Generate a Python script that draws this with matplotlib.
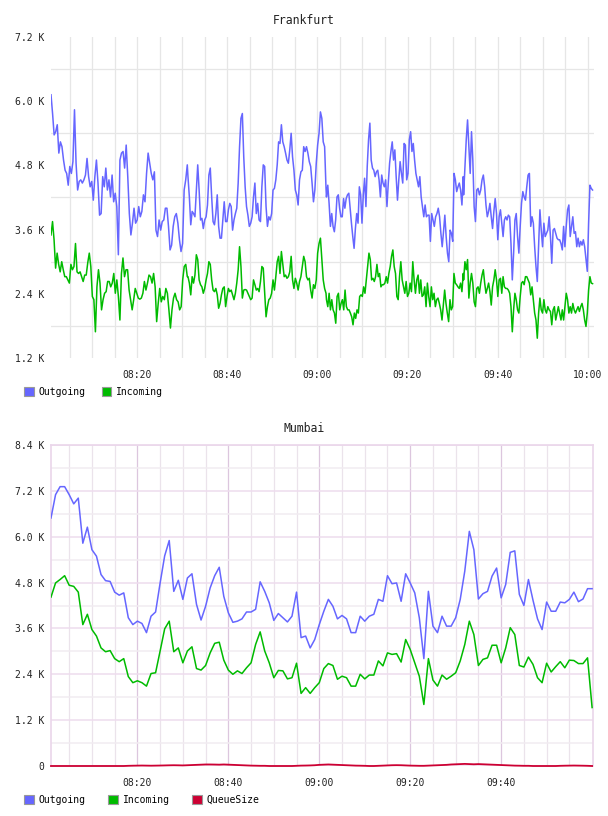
import numpy as np
import matplotlib
matplotlib.use("Agg")
import matplotlib.pyplot as plt
from matplotlib.ticker import FixedLocator, FuncFormatter
from matplotlib.patches import Patch

# ---------------- data (values in thousands) ----------------
# Frankfurt: four consecutive stretches of samples; time spans in minutes after 08:00
FRA_SEG_SPANS = [(0.84, 31.1), (31.25, 61.9), (62.0, 92.37), (92.45, 121.08)]

fra_out_1 = [6.12, 5.77, 5.37, 5.43, 5.56, 5.03, 5.24, 5.15, 4.90, 4.71,
             4.65, 4.43, 4.78, 4.65, 4.87, 5.84, 4.84, 4.34, 4.50, 4.53,
             4.47, 4.53, 4.62, 4.93, 4.59, 4.40, 4.50, 4.15, 4.59, 4.90,
             4.47, 3.87, 3.90, 4.59, 4.40, 4.75, 4.34, 4.53, 4.21, 4.62,
             4.12, 4.28, 4.03, 3.13, 4.90, 5.03, 5.06, 4.75, 5.18, 4.59,
             3.90, 3.50, 3.72, 4.00, 3.72, 3.78, 4.03, 3.84, 3.94, 4.25,
             4.12, 4.65, 5.03, 4.84, 4.65, 4.53, 4.68, 3.59, 3.47, 3.78,
             3.59, 3.75, 3.78, 4.00, 4.00, 3.66, 3.22, 3.31, 3.66, 3.84,
             3.90, 3.72, 3.41, 3.19, 3.34, 4.34, 4.53, 4.81]
fra_out_2 = [4.59, 4.21, 3.69, 3.94, 3.90, 3.84, 4.34, 4.81, 4.34, 3.78,
             3.81, 3.62, 3.78, 3.84, 4.06, 4.62, 4.75, 4.21, 3.75, 3.69,
             3.90, 4.25, 3.66, 3.44, 3.44, 3.78, 4.12, 3.75, 3.75, 3.97,
             4.09, 4.03, 3.59, 3.78, 3.90, 4.00, 4.47, 5.15, 5.68, 5.77,
             4.96, 4.40, 4.03, 3.87, 3.66, 3.72, 3.84, 4.21, 4.47, 3.90,
             4.09, 3.78, 3.75, 4.40, 4.81, 4.78, 4.03, 3.66, 3.84, 3.78,
             3.90, 4.34, 4.37, 4.53, 4.81, 5.24, 5.21, 5.56, 5.24, 5.15,
             5.03, 4.90, 4.84, 5.09, 5.40, 4.96, 4.71, 4.34, 4.25, 4.06,
             4.53, 4.68, 4.71, 5.15, 5.06, 5.15, 5.03, 4.87, 4.78, 4.47,
             4.12, 4.34, 4.84, 5.18, 5.40, 5.80, 5.68, 5.24, 5.15, 4.37]
fra_out_3 = [4.21, 4.43, 4.09, 3.66, 3.90, 3.66, 3.56, 3.78, 4.21, 4.25,
             4.00, 3.84, 3.84, 4.18, 4.00, 4.18, 4.25, 4.28, 4.00, 3.72,
             3.47, 3.25, 3.62, 3.90, 3.72, 4.40, 4.25, 3.72, 4.25, 4.56,
             4.03, 4.78, 5.28, 5.59, 4.90, 4.75, 4.71, 4.59, 4.68, 4.71,
             4.53, 4.21, 4.62, 4.47, 4.40, 4.53, 4.03, 4.47, 4.84, 5.06,
             5.24, 4.90, 5.09, 4.59, 4.15, 4.53, 4.87, 4.65, 4.47, 5.21,
             5.18, 4.53, 4.65, 5.28, 5.43, 5.06, 5.21, 4.90, 4.65, 4.53,
             4.40, 4.59, 4.21, 4.03, 3.84, 4.06, 3.84, 3.87, 3.87, 3.38,
             3.90, 3.78, 3.66, 3.84, 3.90, 4.00, 3.84, 3.53, 3.28, 3.56,
             3.87, 3.47, 3.16, 3.00, 3.59, 3.53, 3.38, 4.65, 4.53, 4.31,
             4.40, 4.47, 4.34, 4.06, 4.59]
fra_out_4 = [4.25, 4.78, 5.28, 5.65, 5.15, 4.65, 5.43, 4.90, 4.03, 3.75,
             4.34, 4.37, 4.25, 4.34, 4.53, 4.62, 4.40, 4.06, 3.84, 3.94,
             4.09, 3.84, 3.62, 3.94, 4.18, 3.90, 3.41, 3.84, 3.97, 3.72,
             3.47, 3.78, 3.84, 3.78, 3.87, 3.84, 3.34, 2.66, 3.16, 3.78,
             3.90, 3.47, 3.16, 3.66, 4.09, 4.31, 4.21, 4.15, 4.40, 4.62,
             4.65, 3.66, 3.84, 3.72, 3.28, 2.91, 2.63, 3.28, 3.97, 3.59,
             3.28, 3.72, 3.47, 3.53, 3.59, 3.84, 3.47, 2.97, 3.59, 3.62,
             3.53, 3.44, 3.41, 3.41, 3.34, 3.22, 3.66, 3.28, 3.66, 3.97,
             4.06, 3.47, 3.66, 3.84, 3.53, 3.56, 3.28, 3.44, 3.28, 3.38,
             3.31, 3.41, 3.28, 3.04, 2.82, 3.72, 4.43, 4.37, 4.34]

fra_in_1 = [3.50, 3.75, 3.41, 2.88, 3.16, 2.95, 2.81, 3.00, 2.85, 2.72,
            2.72, 2.66, 2.60, 2.95, 2.85, 2.91, 3.34, 2.81, 2.78, 2.81,
            2.72, 2.63, 2.75, 2.75, 2.98, 3.16, 2.91, 2.35, 2.29, 1.69,
            2.53, 2.85, 2.60, 2.10, 2.29, 2.41, 2.44, 2.63, 2.63, 2.53,
            2.60, 2.78, 2.41, 2.66, 2.35, 1.91, 2.78, 3.07, 2.72, 2.85,
            2.85, 2.47, 2.29, 2.10, 2.29, 2.50, 2.41, 2.32, 2.30, 2.32,
            2.41, 2.63, 2.47, 2.60, 2.75, 2.72, 2.60, 2.78, 2.53, 1.88,
            2.22, 2.50, 2.25, 2.35, 2.29, 2.50, 2.41, 2.10, 1.76, 2.10,
            2.32, 2.41, 2.29, 2.25, 2.10, 2.16, 2.66, 2.91, 2.95, 2.72]
fra_in_2 = [2.72, 2.60, 2.38, 2.72, 2.60, 2.75, 3.13, 3.04, 2.66, 2.57,
            2.53, 2.41, 2.50, 2.66, 2.78, 3.00, 2.95, 2.66, 2.47, 2.44,
            2.50, 2.38, 2.13, 2.22, 2.38, 2.50, 2.53, 2.16, 2.35, 2.50,
            2.44, 2.47, 2.38, 2.29, 2.41, 2.60, 2.85, 3.28, 2.91, 2.32,
            2.47, 2.48, 2.47, 2.41, 2.35, 2.29, 2.32, 2.66, 2.57, 2.47,
            2.50, 2.44, 2.63, 2.91, 2.88, 2.41, 1.97, 2.16, 2.29, 2.32,
            2.41, 2.66, 2.47, 2.72, 3.00, 3.10, 2.78, 3.19, 2.95, 2.72,
            2.75, 2.69, 2.72, 2.81, 3.10, 2.66, 2.50, 2.69, 2.60, 2.47,
            2.63, 2.72, 2.91, 3.10, 3.00, 2.72, 2.66, 2.69, 2.47, 2.32,
            2.57, 2.50, 2.66, 3.16, 3.34, 3.44, 3.04, 2.66, 2.50, 2.41]
fra_in_3 = [2.29, 2.16, 2.41, 2.10, 2.29, 2.10, 2.04, 1.85, 2.35, 2.41,
            2.10, 2.22, 2.29, 2.10, 2.47, 2.16, 2.10, 2.10, 2.04, 1.97,
            1.82, 2.04, 1.94, 2.10, 2.04, 2.35, 2.38, 2.35, 2.53, 2.41,
            2.66, 2.91, 3.16, 3.04, 2.66, 2.69, 2.63, 2.72, 2.95, 2.72,
            2.78, 2.53, 2.57, 2.57, 2.60, 2.72, 2.60, 2.78, 2.91, 3.10,
            3.22, 2.91, 2.78, 2.35, 2.29, 2.72, 3.00, 2.66, 2.53, 2.41,
            2.63, 2.35, 2.41, 2.60, 2.44, 3.00, 2.66, 2.41, 2.66, 2.75,
            2.41, 2.66, 2.35, 2.38, 2.53, 2.16, 2.60, 2.35, 2.16, 2.53,
            2.29, 2.41, 2.16, 2.29, 2.32, 2.22, 2.10, 1.91, 2.19, 2.47,
            2.22, 2.04, 1.88, 2.29, 2.10, 2.16, 2.78, 2.60, 2.57, 2.53,
            2.50, 2.60, 2.44, 2.78]
fra_in_4 = [2.66, 3.00, 2.85, 3.04, 2.32, 2.60, 2.78, 2.60, 2.25, 2.16,
            2.50, 2.53, 2.41, 2.60, 2.75, 2.85, 2.60, 2.41, 2.50, 2.60,
            2.44, 2.19, 2.53, 2.66, 2.85, 2.66, 2.35, 2.66, 2.69, 2.41,
            2.72, 2.53, 2.50, 2.50, 2.47, 2.41, 2.16, 1.69, 2.10, 2.41,
            2.29, 2.10, 2.04, 2.35, 2.60, 2.63, 2.57, 2.72, 2.72, 2.66,
            2.60, 2.38, 2.53, 2.29, 2.04, 1.91, 1.57, 2.04, 2.32, 2.10,
            2.04, 2.29, 2.10, 2.04, 2.16, 2.10, 2.07, 1.82, 2.10, 2.16,
            1.91, 2.04, 2.16, 2.04, 1.91, 2.10, 1.91, 2.16, 2.41, 2.29,
            2.04, 2.16, 2.04, 2.22, 2.10, 2.04, 2.10, 2.16, 2.07, 2.16,
            2.22, 2.10, 1.91, 1.79, 2.04, 2.47, 2.72, 2.60, 2.59]

# Mumbai: one sample per minute, 08:01 .. 10:00
mum_minutes = np.arange(1, 121)
mum_out = [6.49, 7.10, 7.31, 7.31, 7.10, 6.86, 7.01, 5.83, 6.25, 5.66,
           5.49, 5.01, 4.85, 4.83, 4.55, 4.47, 4.53, 3.88, 3.70, 3.79,
           3.73, 3.49, 3.92, 4.03, 4.79, 5.50, 5.90, 4.57, 4.86, 4.36,
           4.92, 5.03, 4.23, 3.82, 4.18, 4.66, 4.98, 5.20, 4.44, 4.01,
           3.76, 3.79, 3.85, 4.03, 4.03, 4.10, 4.82, 4.57, 4.27, 3.81,
           3.99, 3.88, 3.77, 3.92, 4.55, 3.36, 3.40, 3.09, 3.31, 3.70,
           4.05, 4.36, 4.18, 3.85, 3.94, 3.85, 3.49, 3.49, 3.92, 3.79,
           3.92, 3.97, 4.36, 4.31, 4.98, 4.77, 4.79, 4.31, 5.03, 4.79,
           4.53, 3.88, 2.81, 4.57, 3.66, 3.49, 3.92, 3.66, 3.66, 3.88,
           4.36, 5.10, 6.14, 5.66, 4.37, 4.51, 4.57, 4.97, 5.18, 4.40,
           4.75, 5.59, 5.63, 4.49, 4.20, 4.88, 4.34, 3.85, 3.57, 4.29,
           4.05, 4.05, 4.29, 4.27, 4.36, 4.55, 4.30, 4.37, 4.64, 4.64]
mum_in = [4.42, 4.79, 4.88, 4.98, 4.73, 4.70, 4.55, 3.70, 3.97, 3.57,
          3.40, 3.09, 2.99, 3.02, 2.81, 2.73, 2.81, 2.34, 2.18, 2.23,
          2.18, 2.09, 2.42, 2.44, 3.01, 3.59, 3.79, 2.99, 3.09, 2.70,
          3.01, 3.12, 2.55, 2.51, 2.63, 2.96, 3.21, 3.24, 2.77, 2.51,
          2.40, 2.49, 2.42, 2.57, 2.70, 3.18, 3.51, 3.01, 2.70, 2.31,
          2.50, 2.49, 2.28, 2.31, 2.69, 1.90, 2.05, 1.90, 2.05, 2.18,
          2.55, 2.68, 2.63, 2.27, 2.35, 2.31, 2.09, 2.09, 2.40, 2.28,
          2.38, 2.38, 2.75, 2.62, 2.96, 2.92, 2.94, 2.72, 3.31, 3.05,
          2.70, 2.35, 1.61, 2.81, 2.25, 2.09, 2.38, 2.27, 2.35, 2.44,
          2.75, 3.18, 3.79, 3.44, 2.63, 2.79, 2.83, 3.16, 3.16, 2.70,
          3.09, 3.62, 3.44, 2.63, 2.59, 2.85, 2.66, 2.31, 2.18, 2.69,
          2.46, 2.60, 2.73, 2.57, 2.77, 2.76, 2.68, 2.68, 2.83, 1.53]
mum_queue = [0, 0, 0, 0, 0, 0, 0, 0, 0, 0,
             0, 0, 0, 0, 0, 0, 0, 5, 8, 10,
             12, 10, 8, 10, 12, 15, 18, 20, 18, 15,
             20, 25, 30, 35, 40, 40, 38, 35, 40, 35,
             30, 25, 20, 15, 10, 8, 5, 5, 0, 0,
             0, 0, 0, 0, 5, 10, 12, 15, 20, 30,
             35, 40, 35, 30, 25, 20, 15, 10, 8, 5,
             0, 0, 5, 10, 15, 20, 22, 20, 15, 10,
             8, 5, 5, 10, 15, 20, 25, 30, 40, 45,
             50, 55, 50, 45, 50, 45, 40, 35, 30, 25,
             20, 15, 10, 8, 5, 5, 0, 0, 0, 0,
             0, 0, 5, 8, 10, 12, 10, 8, 5, 0]

series_labels_fra = ["Outgoing", "Incoming"]
series_labels_mum = ["Outgoing", "Incoming", "QueueSize"]
fra_yticks = [1.2, 2.4, 3.6, 4.8, 6.0, 7.2]
mum_yticks = [0, 1.2, 2.4, 3.6, 4.8, 6.0, 7.2, 8.4]
x_label_minutes_fra = [20, 40, 60, 80, 100, 120]
x_label_minutes_mum = [20, 40, 60, 80, 100]

# ---------------- style ----------------
C_OUT = "#6666ff"
C_IN = "#00bb00"
C_Q = "#cc0033"
MONO = "DejaVu Sans Mono"
plt.rcParams["font.family"] = [MONO, "DejaVu Sans"]

def fmt_time(m, pos=None):
    m = int(round(m))
    return "%02d:%02d" % (8 + m // 60, m % 60)

def fmt_k(v, pos=None):
    if abs(v) < 1e-9:
        return "0"
    return "%.1f K" % v

def seg_series(segs):
    xs, ys = [], []
    for (a, b), vals in zip(FRA_SEG_SPANS, segs):
        xs.append(np.linspace(a, b, len(vals)))
        ys.append(np.asarray(vals))
    return np.concatenate(xs), np.concatenate(ys)

W, H = 608, 816
fig = plt.figure(figsize=(W / 100, H / 100), dpi=100)

# ---------------- Frankfurt ----------------
ax1 = fig.add_axes([51 / W, 1 - 358 / H, 543 / W, 321 / H])
x_out, y_out = seg_series([fra_out_1, fra_out_2, fra_out_3, fra_out_4])
x_in, y_in = seg_series([fra_in_1, fra_in_2, fra_in_3, fra_in_4])
ax1.plot(x_out, y_out, color=C_OUT, lw=1.1, zorder=3)
ax1.plot(x_in, y_in, color=C_IN, lw=1.1, zorder=3)
ax1.set_xlim(0.84, 121.4)
ax1.set_ylim(1.2, 7.2)
ax1.xaxis.set_major_locator(FixedLocator(x_label_minutes_fra))
ax1.xaxis.set_minor_locator(FixedLocator(list(range(5, 121, 5))))
ax1.xaxis.set_major_formatter(FuncFormatter(fmt_time))
ax1.yaxis.set_major_locator(FixedLocator(fra_yticks))
ax1.yaxis.set_minor_locator(FixedLocator([1.8, 3.0, 4.2, 5.4, 6.6]))
ax1.yaxis.set_major_formatter(FuncFormatter(fmt_k))
ax1.grid(which="both", axis="x", color="#e6e6e6", lw=0.9)
ax1.grid(which="minor", axis="y", color="#e6e6e6", lw=0.9)
ax1.set_axisbelow(True)
for s in ax1.spines.values():
    s.set_visible(False)
ax1.tick_params(which="both", length=0, labelsize=7, colors="#222222")
ax1.tick_params(axis="x", pad=9)
ax1.tick_params(axis="y", pad=5)

fig.text(0.5, 1 - 20 / H, "Frankfurt", ha="center", va="center",
         fontsize=8.3, color="#222222")

h1 = [Patch(facecolor=C_OUT, edgecolor="#999999", lw=0.8),
      Patch(facecolor=C_IN, edgecolor="#999999", lw=0.8)]
fig.legend(h1, series_labels_fra, loc="center left",
           bbox_to_anchor=(24 / W, 1 - 392 / H), ncol=2, frameon=False,
           fontsize=7, handlelength=1.0, handleheight=1.0,
           handletextpad=0.5, columnspacing=1.65, borderpad=0,
           borderaxespad=0)

# ---------------- Mumbai ----------------
ax2 = fig.add_axes([51 / W, 1 - 766 / H, 542 / W, 321 / H])
ax2.plot(mum_minutes, mum_out, color=C_OUT, lw=1.1, zorder=3)
ax2.plot(mum_minutes, mum_in, color=C_IN, lw=1.1, zorder=3)
ax2.plot(mum_minutes, np.asarray(mum_queue) / 1000.0, color=C_Q, lw=1.3,
         zorder=4, clip_on=False)
ax2.set_xlim(1, 120.2)
ax2.set_ylim(0, 8.4)
ax2.xaxis.set_major_locator(FixedLocator(x_label_minutes_mum))
ax2.xaxis.set_minor_locator(FixedLocator([m for m in range(5, 120, 5)
                                          if m % 20 != 0]))
ax2.xaxis.set_major_formatter(FuncFormatter(fmt_time))
ax2.yaxis.set_major_locator(FixedLocator(mum_yticks))
ax2.yaxis.set_minor_locator(FixedLocator([0.6, 1.8, 3.0, 4.2, 5.4, 6.6, 7.8]))
ax2.yaxis.set_major_formatter(FuncFormatter(fmt_k))
ax2.grid(which="major", axis="x", color="#dcc6de", lw=0.9)
ax2.grid(which="minor", axis="x", color="#ebe3eb", lw=0.9)
ax2.grid(which="major", axis="y", color="#eedcee", lw=1.1)
ax2.grid(which="minor", axis="y", color="#f1ecf1", lw=1.1)
ax2.set_axisbelow(True)
for k, s in ax2.spines.items():
    s.set_color("#ead6ea")
    s.set_linewidth(1.2)
ax2.spines["bottom"].set_visible(False)
ax2.tick_params(which="both", length=0, labelsize=7, colors="#222222")
ax2.tick_params(axis="x", pad=9)
ax2.tick_params(axis="y", pad=5)

fig.text(0.5, 1 - 428 / H, "Mumbai", ha="center", va="center",
         fontsize=8.3, color="#222222")

h2 = [Patch(facecolor=C_OUT, edgecolor="#999999", lw=0.8),
      Patch(facecolor=C_IN, edgecolor="#999999", lw=0.8),
      Patch(facecolor=C_Q, edgecolor="#999999", lw=0.8)]
fig.legend(h2, series_labels_mum, loc="center left",
           bbox_to_anchor=(24 / W, 1 - 800 / H), ncol=3, frameon=False,
           fontsize=7, handlelength=1.0, handleheight=1.0,
           handletextpad=0.5, columnspacing=2.3, borderpad=0,
           borderaxespad=0)

fig.savefig("out.png", dpi=100, facecolor="white")
